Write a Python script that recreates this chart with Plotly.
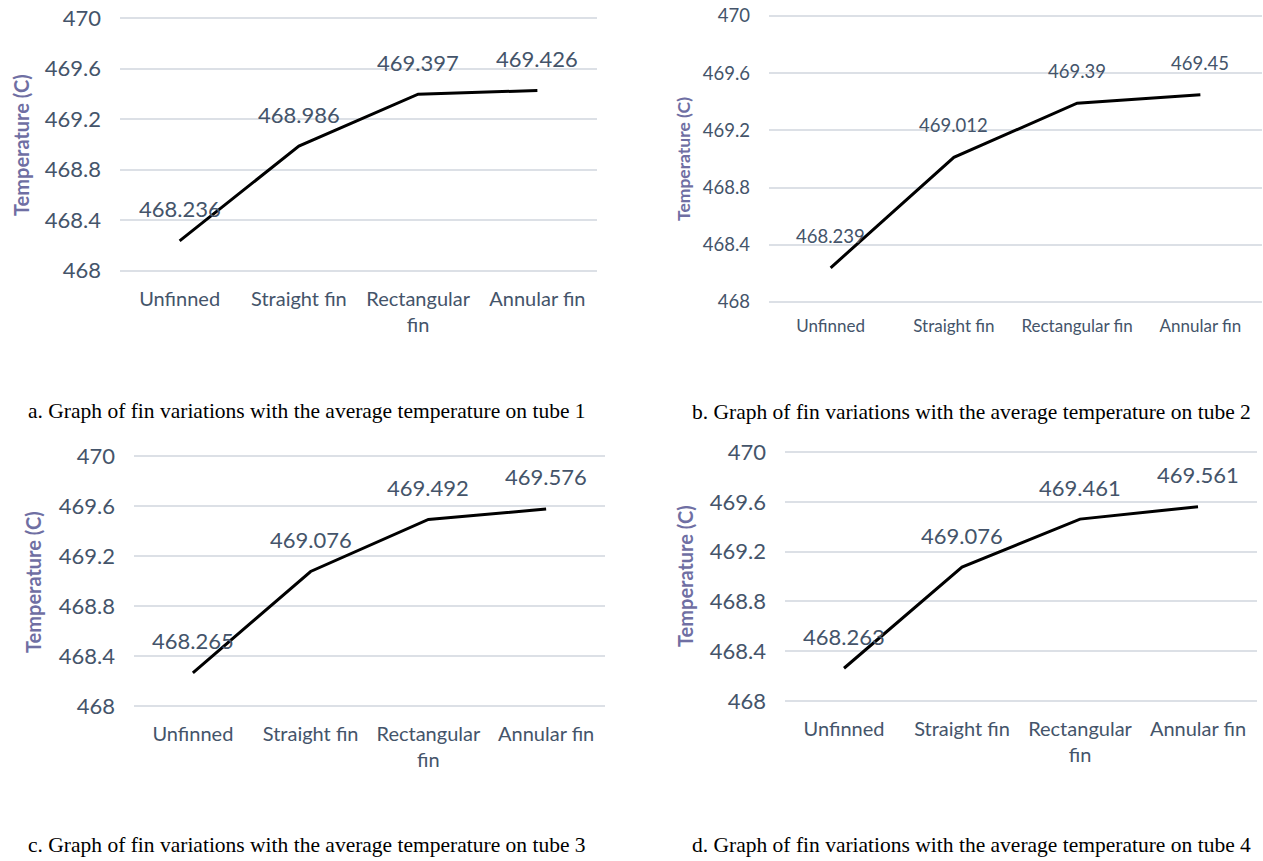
import plotly.graph_objects as go

# Fin configurations on the category axis
categories = ["Unfinned", "Straight fin", "Rectangular fin", "Annular fin"]

# Average tube temperatures (C) per fin configuration
tube1_temp = [468.236, 468.986, 469.397, 469.426]
tube2_temp = [468.239, 469.012, 469.39, 469.45]
tube3_temp = [468.265, 469.076, 469.492, 469.576]
tube4_temp = [468.263, 469.076, 469.461, 469.561]

y_ticks = [468, 468.4, 468.8, 469.2, 469.6, 470]
y_tick_text = ["468", "468.4", "468.8", "469.2", "469.6", "470"]

captions = [
    "a. Graph of fin variations with the average temperature on tube 1",
    "b. Graph of fin variations with the average temperature on tube 2",
    "c. Graph of fin variations with the average temperature on tube 3",
    "d. Graph of fin variations with the average temperature on tube 4",
]

W, H = 1263, 861
TEXT = "#44546A"
TITLE = "#6F6FA3"
GRID = "#DCE0E6"
FONT = "Lato"
Y_MIN, Y_MAX, PAD = 468.0, 470.0, 0.015


def px_x(p):
    return p / W


def px_y(p):
    return 1 - p / H


# panel layout in pixels: plot box (468..470 span), font sizes, title and caption spots
panels = [
    dict(data=tube1_temp, x0=120, x1=597, y0=18, y1=270.7, tick=22, cat=20, lab=22,
         ttl=20, ttl_x=21, ttl_y=145, wrap=True, stand=12, cap_x=26, cap_y=411),
    dict(data=tube2_temp, x0=769, x1=1262, y0=16, y1=302, tick=18.5, cat=17, lab=18.5,
         ttl=17.5, ttl_x=683, ttl_y=159, wrap=False, stand=10, cap_x=690, cap_y=412),
    dict(data=tube3_temp, x0=134, x1=605, y0=456, y1=706, tick=22, cat=20, lab=22,
         ttl=20, ttl_x=33, ttl_y=582, wrap=True, stand=12, cap_x=26, cap_y=845),
    dict(data=tube4_temp, x0=785, x1=1257, y0=452, y1=701, tick=22, cat=20, lab=22,
         ttl=20, ttl_x=685, ttl_y=576, wrap=True, stand=12, cap_x=690, cap_y=845),
]

fig = go.Figure()
annotations = []

for i, p in enumerate(panels):
    n = "" if i == 0 else str(i + 1)
    xa, ya = "x" + n, "y" + n
    fig.add_trace(go.Scatter(
        x=list(range(len(categories))), y=p["data"], mode="lines",
        line=dict(color="black", width=3), xaxis=xa, yaxis=ya,
        showlegend=False, hoverinfo="skip",
    ))
    cat_text = [c.replace("Rectangular fin", "Rectangular<br>fin") if p["wrap"] else c
                for c in categories]
    # pixels per degree, used to pad the range so edge gridlines stay visible
    ppu = (p["y1"] - p["y0"]) / (Y_MAX - Y_MIN)
    top = p["y0"] - PAD * ppu
    bottom = p["y1"] + PAD * ppu
    fig.layout["xaxis" + n] = dict(
        domain=[px_x(p["x0"]), px_x(p["x1"])], anchor=ya,
        range=[-0.5, len(categories) - 0.5], automargin=False,
        tickmode="array", tickvals=list(range(len(categories))), ticktext=cat_text,
        showgrid=False, zeroline=False, showline=False, ticks="",
        tickfont=dict(family=FONT, size=p["cat"], color=TEXT),
        ticklabelstandoff=p["stand"],
    )
    fig.layout["yaxis" + n] = dict(
        domain=[px_y(bottom), px_y(top)], anchor=xa, automargin=False,
        range=[Y_MIN - PAD, Y_MAX + PAD], tickmode="array",
        tickvals=y_ticks, ticktext=y_tick_text,
        showgrid=True, gridcolor=GRID, gridwidth=2, zeroline=False, showline=False,
        ticks="", tickfont=dict(family=FONT, size=p["tick"], color=TEXT),
        ticklabelstandoff=18,
    )
    # value labels above each point
    for k, v in enumerate(p["data"]):
        annotations.append(dict(
            x=k, y=v, xref=xa, yref=ya, text=str(v), showarrow=False,
            yshift=32, font=dict(family=FONT, size=p["lab"], color=TEXT),
        ))
    # rotated axis title
    annotations.append(dict(
        x=px_x(p["ttl_x"]), y=px_y(p["ttl_y"]), xref="paper", yref="paper",
        text="<b>Temperature (C)</b>", textangle=-90, showarrow=False,
        xanchor="center", yanchor="middle",
        font=dict(family=FONT, size=p["ttl"], color=TITLE),
    ))
    # caption under the panel
    annotations.append(dict(
        x=px_x(p["cap_x"]), y=px_y(p["cap_y"]), xref="paper", yref="paper",
        text=captions[i], showarrow=False, xanchor="left", yanchor="middle",
        font=dict(family="Liberation Serif", size=21.5, color="black"),
    ))

fig.update_layout(
    width=W, height=H, margin=dict(l=0, r=0, t=0, b=0, autoexpand=False),
    paper_bgcolor="white", plot_bgcolor="white",
    annotations=annotations,
)

fig.write_html("out.html", config={"displayModeBar": False})
